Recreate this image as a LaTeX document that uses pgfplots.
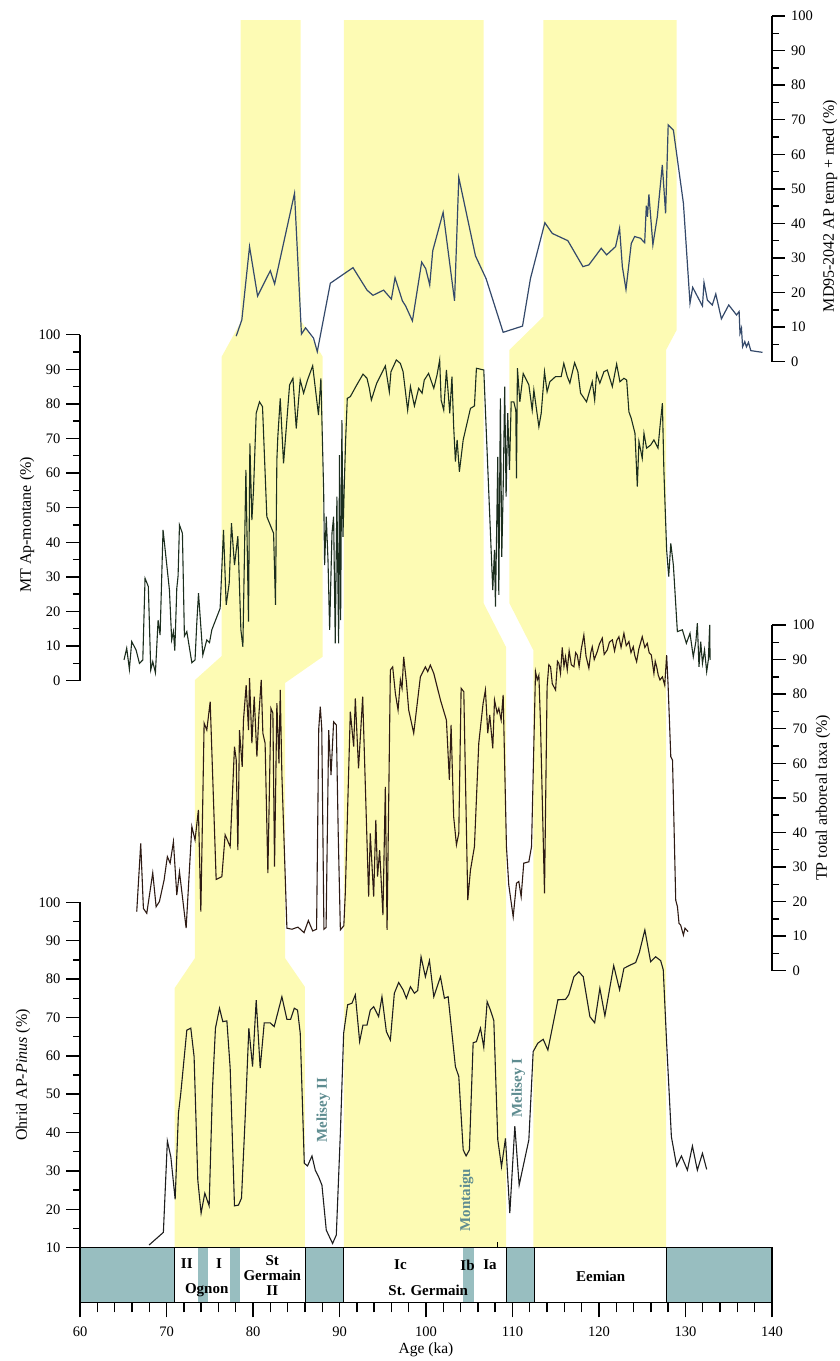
\documentclass[border=0pt]{standalone}
\usepackage{pgfplots}
\pgfplotsset{compat=1.18}
\usepackage{fontspec}
\setmainfont{Liberation Serif}
\definecolor{ylw}{HTML}{FDFBB4}
\definecolor{teal1}{HTML}{98BEC0}
\definecolor{tealtxt}{HTML}{5E8C90}
\definecolor{cMD}{HTML}{34496A}
\definecolor{cMT}{HTML}{1C2E1E}
\definecolor{cTP}{HTML}{2E1B14}
\definecolor{cOH}{HTML}{1E1E1E}
\tikzset{ttl/.style={rotate=90, anchor=center, font=\fontsize{16}{18}\selectfont}}
\pgfplotsset{
  every non boxed x axis/.style={},
  every non boxed y axis/.style={},
  base/.style={scale only axis, width=692pt, xmin=60, xmax=140, clip=false,
    /pgf/number format/assume math mode=true,
    ticklabel style={font=\fontsize{14.5}{16}\selectfont},
    tick style={line width=1.4pt, black},
    major tick length=14pt, minor tick length=7pt},
  leftax/.style={base, hide x axis, axis y line=left, ytick align=outside,
    y axis line style={-, line width=1.6pt}, yticklabel style={xshift=-2pt}},
  rightax/.style={base, hide x axis, axis y line=right, ytick align=outside,
    y axis line style={-, line width=1.6pt}, yticklabel style={xshift=3pt}},
}
\begin{document}
\begin{tikzpicture}
\useasboundingbox (0pt,0pt) rectangle (839pt,1361pt);
% ---------- background: yellow correlation zones and chronostratigraphic band (pixel y)
\begin{axis}[at={(80pt,0pt)}, anchor=south west, scale only axis, width=692pt, height=1361pt,
  xmin=60, xmax=140, ymin=0, ymax=1361, y dir=reverse, hide axis, clip=false]
\addplot[fill=ylw, draw=none] coordinates {(78.58,20) (78.58,322) (76.38,356.7) (76.38,656) (73.29,680) (73.29,958) (70.95,988) (70.95,1247.7) (86.01,1247.7) (86.01,987) (83.70,958) (83.70,683) (88.06,656.7) (88.06,356.7) (85.51,320) (85.51,20)} -- cycle;
\addplot[fill=ylw, draw=none] coordinates {(90.52,20) (90.52,1247.7) (109.25,1247.7) (109.25,647) (106.65,603) (106.65,20)} -- cycle;
\addplot[fill=ylw, draw=none] coordinates {(113.56,20) (113.56,316.7) (109.63,350) (109.63,603) (112.4,650) (112.4,1247.7) (127.75,1247.7) (127.75,350) (128.98,330) (128.98,20)} -- cycle;
% band
\addplot[fill=white, draw=none] coordinates {(60,1247.7) (140,1247.7) (140,1302.3) (60,1302.3)} -- cycle;
\addplot[fill=teal1, draw=none] coordinates {(60,1247.7) (70.9,1247.7) (70.9,1302.3) (60,1302.3)} -- cycle;
\addplot[fill=teal1, draw=none] coordinates {(73.6,1247.7) (74.8,1247.7) (74.8,1302.3) (73.6,1302.3)} -- cycle;
\addplot[fill=teal1, draw=none] coordinates {(77.35,1247.7) (78.5,1247.7) (78.5,1302.3) (77.35,1302.3)} -- cycle;
\addplot[fill=teal1, draw=none] coordinates {(86.08,1247.7) (90.5,1247.7) (90.5,1302.3) (86.08,1302.3)} -- cycle;
\addplot[fill=teal1, draw=none] coordinates {(104.3,1247.7) (105.5,1247.7) (105.5,1302.3) (104.3,1302.3)} -- cycle;
\addplot[fill=teal1, draw=none] coordinates {(109.28,1247.7) (112.56,1247.7) (112.56,1302.3) (109.28,1302.3)} -- cycle;
\addplot[fill=teal1, draw=none] coordinates {(127.78,1247.7) (140,1247.7) (140,1302.3) (127.78,1302.3)} -- cycle;
\draw[line width=1.3pt] (axis cs:60,1247.7) rectangle (axis cs:140,1302.3);
\draw[line width=1.3pt] (axis cs:70.9,1247.7) -- (axis cs:70.9,1302.3);
\draw[line width=1.3pt] (axis cs:86.08,1247.7) -- (axis cs:86.08,1302.3);
\draw[line width=1.3pt] (axis cs:90.5,1247.7) -- (axis cs:90.5,1302.3);
\draw[line width=1.3pt] (axis cs:109.28,1247.7) -- (axis cs:109.28,1302.3);
\draw[line width=1.3pt] (axis cs:112.56,1247.7) -- (axis cs:112.56,1302.3);
\draw[line width=1.3pt] (axis cs:127.78,1247.7) -- (axis cs:127.78,1302.3);
\draw[line width=1pt] (axis cs:108.32,1242) -- (axis cs:108.32,1247.7);
\begin{scope}[every node/.style={font=\bfseries\fontsize{15}{16}\selectfont, inner sep=0pt}]
\node at (axis cs:72.35,1264) {II};
\node at (axis cs:76.08,1264) {I};
\node at (axis cs:74.65,1290) {Ognon};
\node[align=center] at (axis cs:82.23,1276) {St\\[-1pt]Germain\\[-1pt]II};
\node at (axis cs:97.05,1265) {Ic};
\node at (axis cs:104.8,1265) {Ib};
\node at (axis cs:107.39,1265) {Ia};
\node at (axis cs:100.26,1290) {St. Germain};
\node at (axis cs:120.2,1276) {Eemian};
\node[rotate=90, text=tealtxt] at (axis cs:88.13,1110) {Melisey II};
\node[rotate=90, text=tealtxt] at (axis cs:104.7,1200) {Montaigu};
\node[rotate=90, text=tealtxt] at (axis cs:110.67,1088) {Melisey I};
\end{scope}
\end{axis}
% ---------- MD95-2042
\begin{axis}[rightax, at={(80pt,999.3pt)}, anchor=south west, height=345.7pt,
  ymin=0, ymax=100, ytick={0,10,...,100}, minor ytick={5,15,...,95},
  major tick length=12.7pt, minor tick length=6.7pt]
\addplot[cMD, line width=1.2pt] coordinates {
(78.06,7.4) (78.71,12.1) (79.60,33.3) (80.53,19.0) (82.00,26.3) (82.50,22.5) (84.80,48.7) (85.60,8.0)
(86.08,9.8) (87.00,6.8) (87.43,2.9) (88.94,22.7) (91.56,27.2) (93.18,20.7) (93.87,19.2) (95.10,20.7)
(96.00,18.1) (96.42,24.3) (97.27,17.6) (97.65,16.1) (98.43,11.8) (99.50,28.8) (99.97,26.9) (100.43,22.2)
(100.78,32.1) (101.98,43.2) (103.30,17.6) (103.79,53.3) (105.72,30.6) (106.95,24.0) (108.92,8.5) (111.16,10.3)
(112.08,24.1) (113.74,40.2) (114.60,37.1) (116.40,35.0) (118.14,27.5) (118.83,28.0) (120.26,32.8) (120.88,30.9)
(121.92,33.3) (122.38,38.6) (122.70,27.5) (123.12,20.9) (123.73,34.2) (124.12,36.2) (124.80,35.7) (125.28,34.4)
(125.47,45.1) (125.60,41.9) (125.77,48.4) (126.23,33.8) (126.74,41.9) (127.32,56.9) (127.70,42.9) (128.00,68.5)
(128.60,67.0) (129.76,45.8) (130.52,16.9) (130.83,21.5) (131.96,16.1) (132.14,22.9) (132.53,17.8) (133.10,16.4)
(133.50,19.6) (134.15,12.4) (135.00,16.4) (135.90,13.5) (136.20,14.5) (136.30,8.2) (136.47,9.7) (136.60,4.3)
(136.85,5.8) (137.05,4.3) (137.28,5.6) (137.55,3.2) (138.90,2.7)};
\node[ttl] at (axis description cs:1.0838,0.45) {MD95-2042 AP temp + med (\%)};
\end{axis}
% ---------- MT
\begin{axis}[leftax, at={(80pt,680.3pt)}, anchor=south west, height=346pt,
  ymin=0, ymax=100, ytick={0,10,...,100}, minor ytick={5,15,...,95}]
\addplot[cMT, line width=1.1pt] coordinates {
(65.09,6.0) (65.40,9.4) (65.71,3.3) (65.98,11.3) (66.48,8.9) (66.87,5.0) (67.26,6.0) (67.52,29.6)
(67.90,27.2) (68.18,3.1) (68.41,5.5) (68.72,2.3) (69.03,17.5) (69.26,13.2) (69.60,43.6) (70.34,26.2)
(70.60,11.8) (70.80,14.2) (70.96,8.7) (71.19,26.7) (71.34,30.3) (71.50,45.0) (71.84,42.6) (72.07,12.9)
(72.35,14.2) (72.93,5.2) (73.30,6.0) (73.50,16.6) (73.70,25.3) (74.20,7.4) (74.66,11.8) (74.97,11.0)
(75.24,14.7) (76.20,20.9) (76.59,43.6) (76.90,21.9) (77.25,28.2) (77.51,45.5) (77.86,33.4) (78.25,41.8)
(78.60,14.7) (78.83,9.8) (79.18,60.9) (79.48,17.1) (79.64,68.6) (79.87,46.4) (80.06,55.1) (80.37,77.3)
(80.75,80.6) (81.10,79.2) (81.60,47.4) (82.38,42.6) (82.60,21.9) (82.76,63.8) (82.87,70.5) (83.15,81.6)
(83.53,62.8) (84.23,85.5) (84.62,87.4) (85.00,72.9) (85.46,86.9) (85.85,83.1) (86.30,86.9) (86.90,91.0)
(87.57,76.8) (87.85,87.4) (88.09,62.8) (88.17,54.6) (88.28,33.4) (88.47,47.4) (88.67,34.9) (88.86,14.7)
(89.13,42.6) (89.32,47.4) (89.51,10.8) (89.70,53.2) (89.90,10.8) (90.00,65.2) (90.13,17.5) (90.28,75.3)
(90.40,41.6) (90.56,57.1) (90.71,69.6) (90.90,81.6) (91.25,82.1) (92.00,85.5) (92.72,88.6) (93.18,87.4)
(93.45,84.5) (93.68,81.1) (94.30,86.0) (94.90,89.0) (95.30,91.0) (95.76,83.5) (95.95,89.3) (96.57,92.7)
(97.04,91.7) (97.35,89.3) (97.88,78.2) (98.20,85.0) (98.66,79.4) (99.15,84.5) (99.55,83.1) (99.80,86.9)
(100.30,88.8) (100.90,84.5) (101.28,88.4) (101.58,92.7) (101.75,81.1) (102.05,78.2) (102.36,89.8) (102.75,77.3)
(103.00,87.9) (103.20,73.4) (103.40,63.3) (103.60,69.6) (103.86,60.4) (104.30,69.6) (105.14,78.7) (105.60,79.4)
(105.83,90.3) (106.68,89.8) (107.72,26.2) (107.92,37.8) (108.03,21.4) (108.30,64.7) (108.42,24.8) (108.60,81.6)
(108.76,35.8) (108.92,55.1) (109.10,85.0) (109.26,53.2) (109.45,77.3) (109.65,60.9) (109.85,80.6) (110.15,80.6)
(110.38,78.2) (110.46,58.5) (110.57,90.3) (110.85,80.6) (111.24,88.8) (111.89,85.5) (112.28,78.2) (112.47,84.0)
(113.05,73.4) (113.32,77.3) (113.70,89.3) (114.00,83.5) (114.32,86.4) (114.98,87.9) (115.63,87.9) (115.93,91.7)
(116.33,87.9) (116.63,86.0) (117.18,91.9) (117.56,89.3) (117.87,83.1) (118.56,80.6) (119.22,86.4) (119.50,81.1)
(119.72,88.8) (120.10,86.0) (120.57,89.3) (120.96,89.8) (121.54,85.0) (122.04,91.5) (122.42,86.4) (122.88,87.4)
(123.20,86.9) (123.46,77.7) (123.73,75.8) (124.16,71.5) (124.43,56.1) (124.62,69.1) (125.00,64.3) (125.20,71.5)
(125.50,67.2) (125.97,68.1) (126.35,69.6) (126.82,67.2) (127.05,73.4) (127.33,80.2) (127.50,60.9) (127.63,51.3)
(127.82,37.8) (128.06,30.1) (128.30,39.7) (128.60,33.4) (129.06,14.2) (129.64,14.7) (130.10,10.8) (130.52,13.7)
(130.90,6.9) (131.20,11.3) (131.37,16.6) (131.56,4.0) (131.76,11.3) (131.96,5.0) (132.20,8.9) (132.45,2.6)
(132.64,6.0) (132.80,16.1) (132.84,6.0)};
\node[ttl] at (axis description cs:-0.0766,0.45) {MT Ap-montane (\%)};
\end{axis}
% ---------- TP
\begin{axis}[rightax, at={(80pt,390.3pt)}, anchor=south west, height=345.7pt,
  ymin=0, ymax=100, ytick={0,10,...,100}, minor ytick={5,15,...,95}]
\addplot[cTP, line width=1.1pt] coordinates {
(66.56,17.1) (67.02,36.8) (67.33,18.0) (67.72,16.6) (68.41,28.3) (68.80,18.5) (69.18,20.0) (69.72,26.2)
(70.10,33.0) (70.42,31.1) (70.80,37.3) (71.19,21.9) (71.50,28.6) (72.27,12.3) (72.93,41.7) (73.30,37.8)
(73.69,46.5) (73.97,17.1) (74.35,71.6) (74.66,69.6) (75.05,77.8) (75.74,26.4) (76.40,27.2) (76.78,39.3)
(77.36,35.9) (77.86,64.8) (78.06,61.0) (78.25,34.9) (78.44,69.6) (78.75,59.0) (78.90,72.5) (79.21,82.6)
(79.48,69.6) (79.60,84.6) (79.87,65.8) (80.14,79.3) (80.45,61.9) (80.68,74.0) (80.95,84.1) (81.14,68.7)
(81.40,65.8) (81.72,28.2) (82.07,75.9) (82.30,74.5) (82.49,30.1) (82.76,77.4) (83.00,60.0) (83.15,81.2)
(83.34,56.6) (83.92,12.3) (84.50,12.0) (85.20,12.6) (85.90,11.0) (86.40,14.5) (86.90,11.5) (87.35,12.0)
(87.60,70.0) (87.78,76.4) (87.95,70.0) (88.20,12.0) (88.45,12.5) (88.75,69.6) (89.02,56.6) (89.32,72.0)
(89.63,71.1) (89.85,40.0) (90.10,11.8) (90.50,13.0) (90.67,22.4) (91.25,74.9) (91.64,64.8) (91.83,78.8)
(92.20,58.5) (92.68,79.3) (93.37,21.4) (93.56,39.7) (93.95,21.4) (94.20,43.6) (94.40,27.2) (94.64,34.9)
(95.02,16.1) (95.30,53.2) (95.50,11.8) (95.88,87.0) (96.15,87.9) (96.46,80.2) (96.77,75.4) (97.04,84.1)
(97.23,81.7) (97.42,90.8) (97.73,83.6) (98.00,75.4) (98.58,68.7) (99.35,85.0) (99.93,87.9) (100.20,86.5)
(100.50,88.4) (100.90,86.0) (101.67,78.3) (102.36,72.5) (102.70,55.2) (102.90,71.1) (103.20,44.5) (103.52,36.4)
(103.79,39.7) (104.06,81.7) (104.37,80.7) (104.83,20.4) (105.14,29.1) (105.60,35.9) (106.10,65.8) (106.60,77.3)
(106.87,81.2) (107.14,68.7) (107.37,74.0) (107.72,64.3) (107.92,78.3) (108.23,74.5) (108.42,75.9) (108.69,72.5)
(108.92,79.8) (109.30,35.9) (109.57,24.8) (110.08,15.6) (110.46,25.3) (110.73,25.8) (111.00,21.4) (111.30,31.1)
(111.89,31.5) (112.20,35.9) (112.66,86.5) (112.86,84.1) (113.05,85.5) (113.24,71.1) (113.70,22.4) (114.00,82.2)
(114.20,88.5) (114.40,87.9) (114.60,83.0) (114.98,81.2) (115.20,89.5) (115.36,88.9) (115.55,86.0) (115.75,93.5)
(115.95,88.0) (116.13,90.8) (116.33,87.0) (116.55,92.5) (116.80,88.5) (117.10,87.9) (117.30,92.0) (117.49,91.3)
(117.70,88.0) (117.95,93.0) (118.25,97.1) (118.50,91.0) (118.83,87.5) (119.05,92.0) (119.22,93.7) (119.45,90.0)
(119.80,92.3) (120.05,94.5) (120.38,96.2) (120.60,91.5) (120.96,92.8) (121.20,95.0) (121.54,95.7) (121.80,92.5)
(122.05,95.5) (122.30,96.6) (122.55,93.5) (122.88,97.6) (123.15,94.0) (123.46,95.2) (123.70,92.0) (123.96,93.7)
(124.15,91.0) (124.35,89.4) (124.60,93.0) (125.00,96.6) (125.30,93.5) (125.58,94.7) (125.80,92.0) (126.05,91.3)
(126.35,86.0) (126.50,89.5) (126.67,87.9) (126.85,85.5) (127.05,84.1) (127.33,85.0) (127.60,82.6) (127.82,91.3)
(127.98,83.1) (128.30,61.9) (128.50,60.9) (128.87,20.4) (129.07,18.5) (129.25,13.7) (129.44,13.2) (129.76,10.3)
(129.94,12.3) (130.30,11.3)};
\node[ttl] at (axis description cs:1.0737,0.5) {TP total arboreal taxa (\%)};
\end{axis}
% ---------- Ohrid
\begin{axis}[leftax, at={(80pt,113.3pt)}, anchor=south west, height=345.4pt,
  ymin=10, ymax=100, ytick={10,20,...,100}, minor ytick={15,25,...,95}]
\addplot[cOH, line width=1.1pt] coordinates {
(67.99,10.7) (69.64,14.0) (70.10,37.8) (70.50,33.7) (71.00,22.6) (71.38,45.0) (71.65,50.2) (72.35,66.7)
(72.81,67.2) (73.19,59.8) (73.62,27.6) (74.00,19.0) (74.43,24.2) (74.93,20.9) (75.31,51.1) (75.66,67.2)
(76.13,72.4) (76.51,68.9) (76.98,69.1) (77.36,56.8) (77.86,20.9) (78.32,21.1) (78.67,22.9) (79.10,44.1)
(79.52,67.2) (79.95,57.2) (80.37,74.5) (80.83,56.8) (81.30,68.6) (81.99,68.6) (82.45,67.6) (83.34,75.4)
(83.92,69.5) (84.35,69.5) (84.77,72.4) (85.15,71.9) (85.46,65.9) (85.93,32.0) (86.30,31.3) (86.82,33.9)
(87.20,30.2) (87.58,28.5) (87.97,26.3) (88.47,14.6) (88.86,12.7) (89.20,11.1) (89.63,13.3) (90.10,39.8)
(90.48,65.9) (90.94,73.3) (91.44,73.7) (91.83,75.9) (92.33,63.7) (92.71,68.0) (93.18,68.0) (93.56,71.9)
(93.95,72.8) (94.52,70.2) (94.91,75.4) (95.42,66.3) (95.88,64.1) (96.34,76.3) (96.84,79.1) (97.35,77.2)
(97.73,75.0) (98.20,78.0) (98.66,76.3) (99.04,77.0) (99.43,85.8) (99.93,80.6) (100.40,84.8) (100.90,75.4)
(101.67,80.6) (102.13,75.0) (102.56,75.4) (103.40,57.2) (103.79,54.6) (104.30,35.5) (104.64,33.9) (105.02,35.5)
(105.45,63.4) (105.83,63.7) (106.30,67.2) (106.68,62.2) (107.07,74.1) (107.45,71.9) (107.84,69.2) (108.30,38.1)
(108.73,31.1) (109.19,38.5) (109.69,19.0) (110.27,41.7) (110.77,26.3) (111.31,32.0) (111.89,38.1) (112.39,61.1)
(112.93,63.3) (113.55,64.3) (114.09,61.5) (115.25,74.6) (116.13,74.7) (116.50,75.9) (117.10,80.6) (117.67,81.9)
(118.18,80.6) (118.95,70.2) (119.50,68.6) (120.10,77.6) (120.68,70.4) (121.70,83.5) (122.38,77.2) (122.88,82.8)
(123.66,83.7) (124.24,84.3) (124.66,86.9) (125.30,92.8) (125.97,84.5) (126.55,85.8) (127.13,84.8) (127.43,82.4)
(127.82,63.3) (128.37,38.9) (128.98,31.3) (129.53,33.9) (130.22,30.2) (130.80,36.5) (131.37,30.2) (131.96,34.6)
(132.45,30.4)};
\node[ttl] at (axis description cs:-0.0824,0.5) {Ohrid AP-\textit{Pinus} (\%)};
\end{axis}
% ---------- Age axis
\begin{axis}[base, at={(80pt,58.7pt)}, anchor=south west, height=54.6pt,
  hide y axis, axis x line=bottom, xtick align=outside,
  x axis line style={-, line width=1.6pt}, ymin=0, ymax=1,
  xtick={60,70,...,140}, minor x tick num=4, xticklabel style={yshift=-6pt},
  major tick length=15pt, minor tick length=10pt]
\node[font=\fontsize{15.5}{18}\selectfont] at (axis description cs:0.5,-0.879) {Age (ka)};
\end{axis}
\end{tikzpicture}
\end{document}
